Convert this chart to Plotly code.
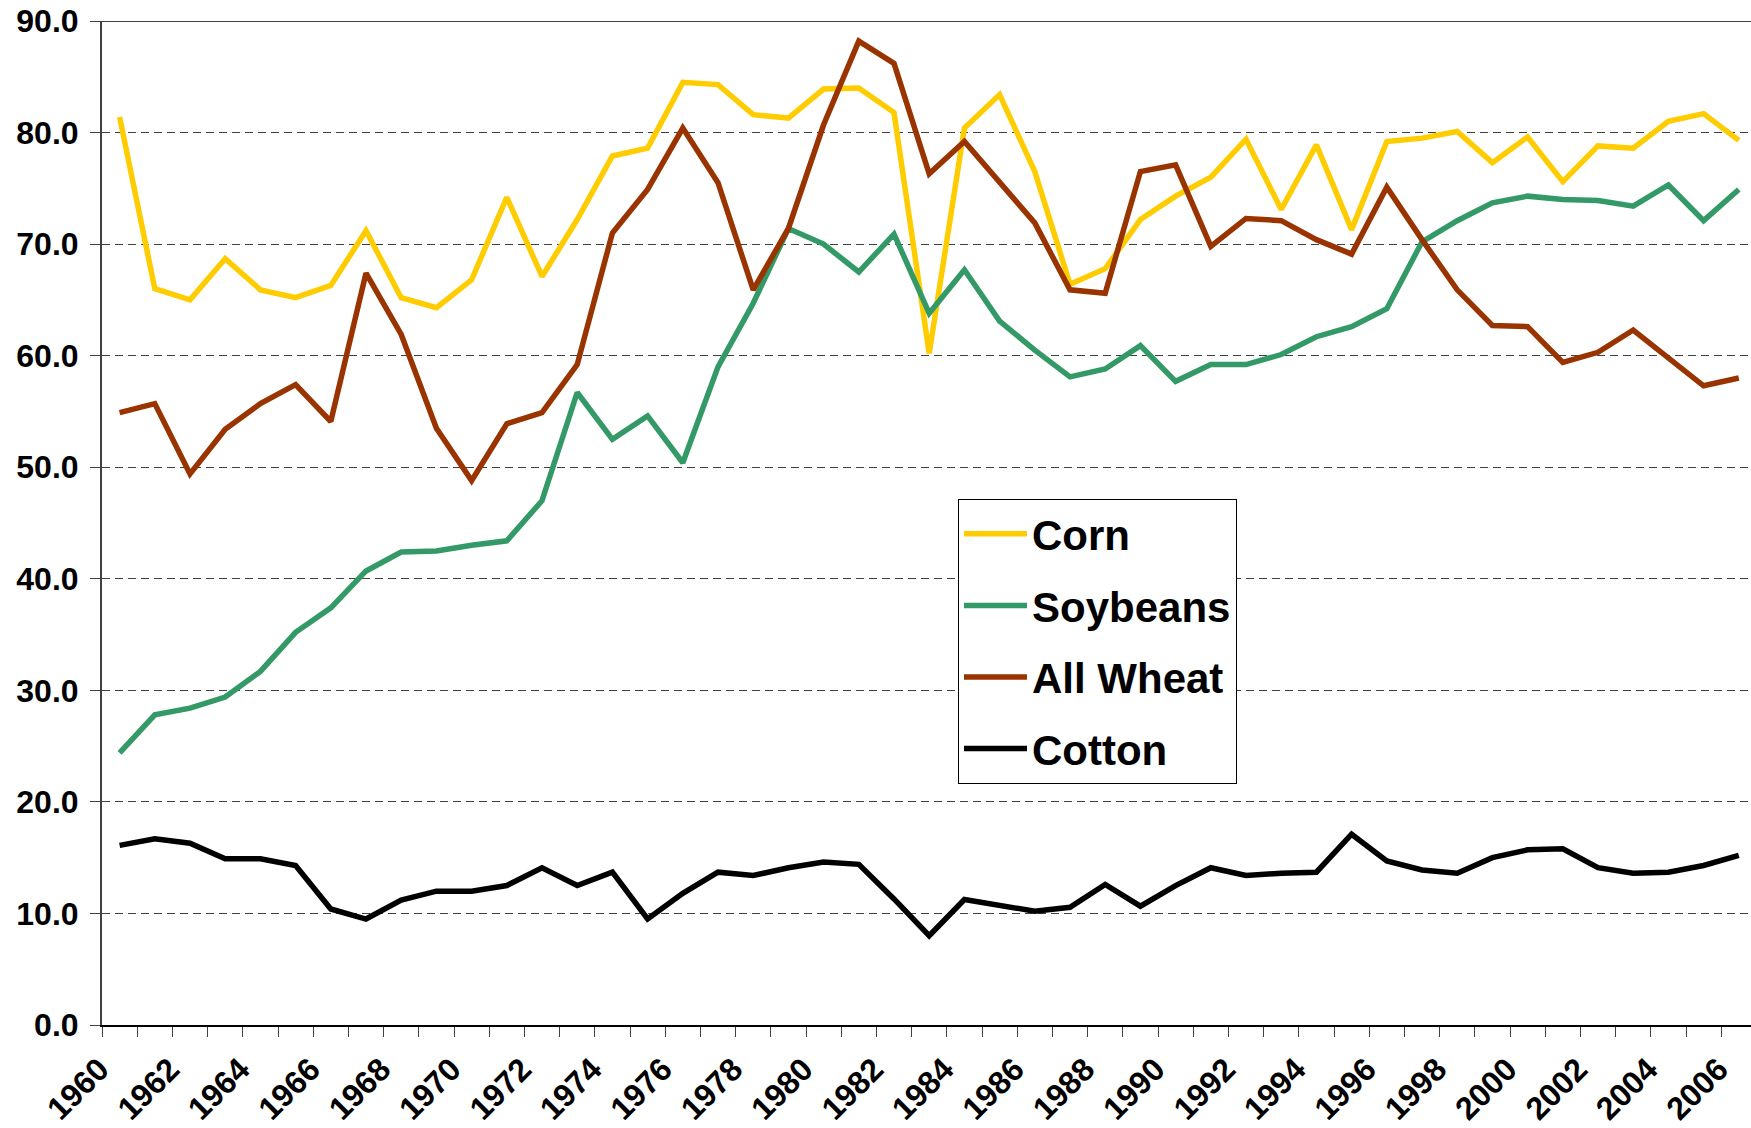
import plotly.graph_objects as go

years = list(range(1960, 2007))
corn = [81.4, 66.0, 65.0, 68.7, 65.9, 65.2, 66.3, 71.2, 65.2, 64.3,
        66.8, 74.2, 67.1, 72.2, 77.9, 78.6, 84.5, 84.3, 81.6, 81.3,
        83.9, 84.0, 81.8, 60.2, 80.4, 83.4, 76.5, 66.4, 67.8, 72.2,
        74.3, 76.0, 79.4, 73.1, 78.9, 71.3, 79.2, 79.5, 80.1, 77.3,
        79.6, 75.6, 78.8, 78.6, 81.0, 81.7, 79.3]
soybeans = [24.4, 27.8, 28.4, 29.4, 31.7, 35.2, 37.4, 40.7, 42.4, 42.5,
            43.0, 43.4, 47.0, 56.7, 52.5, 54.6, 50.4, 59.0, 64.7, 71.4,
            70.0, 67.5, 70.9, 63.8, 67.7, 63.1, 60.5, 58.1, 58.8, 60.9,
            57.7, 59.2, 59.2, 60.1, 61.7, 62.6, 64.2, 70.2, 72.1, 73.7,
            74.3, 74.0, 73.9, 73.4, 75.3, 72.1, 74.9]
wheat = [54.9, 55.7, 49.4, 53.4, 55.7, 57.4, 54.1, 67.4, 61.9, 53.5,
         48.8, 53.9, 54.9, 59.2, 71.0, 74.9, 80.4, 75.5, 65.9, 71.4,
         80.7, 88.2, 86.2, 76.3, 79.2, 75.5, 71.9, 65.9, 65.6, 76.5,
         77.1, 69.8, 72.3, 72.1, 70.4, 69.1, 75.1, 70.4, 65.9, 62.7,
         62.6, 59.4, 60.3, 62.3, 59.8, 57.3, 58.0]
cotton = [16.1, 16.7, 16.3, 14.9, 14.9, 14.3, 10.4, 9.5, 11.2, 12.0,
          12.0, 12.5, 14.1, 12.5, 13.7, 9.5, 11.8, 13.7, 13.4, 14.1,
          14.6, 14.4, 11.3, 8.0, 11.25, 10.7, 10.2, 10.55, 12.6, 10.65,
          12.5, 14.1, 13.4, 13.6, 13.7, 17.1, 14.7, 13.9, 13.6, 15.0,
          15.7, 15.8, 14.1, 13.6, 13.7, 14.3, 15.2]

series_names = ["Corn", "Soybeans", "All Wheat", "Cotton"]
series_values = [corn, soybeans, wheat, cotton]
series_colors = ["#FFCC00", "#339966", "#993300", "#000000"]

tick_years = list(range(1960, 2007, 2))
tick_labels = [str(y) for y in tick_years]

FONT = "Liberation Sans, Arial, sans-serif"

fig = go.Figure()
for name, vals, col in zip(series_names, series_values, series_colors):
    fig.add_trace(go.Scatter(
        x=years, y=vals, name=name, mode="lines",
        line=dict(color=col, width=5.5),
        legendgroup=name,
    ))

W, H = 1751, 1128
ml, mr, mt, mb = 102, 0, 21, 103
pw = W - ml - mr
ph = H - mt - mb
step = 35.2  # px per year in the reference
xr = [1959.5, 1959.5 + pw / step]
vx0 = ml
vy0 = H - mb

fig.update_layout(
    width=W, height=H,
    margin=dict(l=ml, r=mr, t=mt, b=mb, autoexpand=False),
    paper_bgcolor="white", plot_bgcolor="white",
    font=dict(family=FONT, color="black"),
    legend=dict(
        x=(958 - vx0) / pw, y=(vy0 - 499) / ph,
        xanchor="left", yanchor="top",
        bgcolor="white", bordercolor="black", borderwidth=1,
        font=dict(size=42, family=FONT, weight="bold", color="black"),
        tracegroupgap=14, itemwidth=63,
    ),
    xaxis=dict(
        range=xr, tickmode="array", tickvals=tick_years, ticktext=tick_labels,
        tickangle=-45, ticks="", showgrid=False, zeroline=False,
        automargin=False, ticklabeloverflow="allow",
        showline=True, linecolor="black", linewidth=1.5,
        tickfont=dict(size=32, family=FONT, weight="bold", color="black"),
        ticklabelshift=-20, ticklabelstandoff=11,
        minor=dict(tick0=1959.5, dtick=1, ticks="outside", ticklen=10,
                   tickcolor="#404040", tickwidth=1, showgrid=False),
    ),
    yaxis=dict(
        range=[0, 90], dtick=10, tick0=0, tickformat=".1f",
        automargin=False, ticklabeloverflow="allow",
        ticks="outside", ticklen=10, tickcolor="#404040", tickwidth=1,
        showline=True, linecolor="#404040", linewidth=2,
        showgrid=True, gridcolor="#404040", gridwidth=1, griddash="8px,5px",
        zeroline=False,
        tickfont=dict(size=32, family=FONT, weight="bold", color="black"),
        ticklabelstandoff=5,
    ),
    shapes=[dict(type="line", xref="paper", yref="y", x0=0, x1=1, y0=90, y1=90,
                 line=dict(color="black", width=1.5))],
)

fig.write_html(
    "out.html",
    config={"displayModeBar": False},
    post_script="document.body.style.margin='0';document.body.style.padding='0';",
)
